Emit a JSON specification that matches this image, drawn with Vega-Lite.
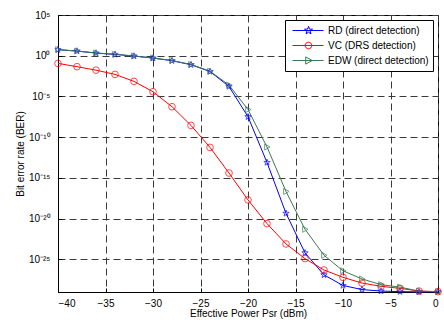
{
  "$schema": "https://vega.github.io/schema/vega-lite/v6.json",
  "width": 380,
  "height": 277,
  "autosize": "none",
  "padding": {"left": 58, "top": 15, "right": 6, "bottom": 28},
  "background": "white",
  "config": {
    "view": {"stroke": "black", "strokeWidth": 1},
    "font": "Liberation Sans",
    "axis": {
      "labelFont": "Liberation Sans",
      "titleFont": "Liberation Sans",
      "labelFontSize": 10,
      "titleFontSize": 10,
      "titleFontWeight": "normal",
      "labelColor": "black",
      "titleColor": "black",
      "domainColor": "black",
      "tickColor": "black",
      "gridColor": "#3a3a3a",
      "gridDash": [7, 4],
      "gridWidth": 1,
      "gridOpacity": 1
    }
  },
  "data": {
    "values": [
      {"x": -40, "ber": 5.5, "s": "RD (direct detection)"},
      {"x": -38, "ber": 3.7, "s": "RD (direct detection)"},
      {"x": -36, "ber": 2.1, "s": "RD (direct detection)"},
      {"x": -34, "ber": 1.45, "s": "RD (direct detection)"},
      {"x": -32, "ber": 0.91, "s": "RD (direct detection)"},
      {"x": -30, "ber": 0.51, "s": "RD (direct detection)"},
      {"x": -28, "ber": 0.245, "s": "RD (direct detection)"},
      {"x": -26, "ber": 0.079, "s": "RD (direct detection)"},
      {"x": -24, "ber": 0.0117, "s": "RD (direct detection)"},
      {"x": -22, "ber": 1.7e-4, "s": "RD (direct detection)"},
      {"x": -20, "ber": 3.2e-8, "s": "RD (direct detection)"},
      {"x": -18, "ber": 7.9e-14, "s": "RD (direct detection)"},
      {"x": -16, "ber": 4.5e-20, "s": "RD (direct detection)"},
      {"x": -14, "ber": 6.3e-25, "s": "RD (direct detection)"},
      {"x": -12, "ber": 1.26e-27, "s": "RD (direct detection)"},
      {"x": -10, "ber": 6.3e-29, "s": "RD (direct detection)"},
      {"x": -8, "ber": 2.0e-29, "s": "RD (direct detection)"},
      {"x": -6, "ber": 1.3e-29, "s": "RD (direct detection)"},
      {"x": -4, "ber": 1.1e-29, "s": "RD (direct detection)"},
      {"x": -2, "ber": 1.05e-29, "s": "RD (direct detection)"},
      {"x": 0, "ber": 1.05e-29, "s": "RD (direct detection)"},
      {"x": -40, "ber": 0.115, "s": "VC (DRS detection)"},
      {"x": -38, "ber": 0.045, "s": "VC (DRS detection)"},
      {"x": -36, "ber": 0.017, "s": "VC (DRS detection)"},
      {"x": -34, "ber": 0.0051, "s": "VC (DRS detection)"},
      {"x": -32, "ber": 7.1e-4, "s": "VC (DRS detection)"},
      {"x": -30, "ber": 3.8e-5, "s": "VC (DRS detection)"},
      {"x": -28, "ber": 5.5e-7, "s": "VC (DRS detection)"},
      {"x": -26, "ber": 2.8e-9, "s": "VC (DRS detection)"},
      {"x": -24, "ber": 5.6e-12, "s": "VC (DRS detection)"},
      {"x": -22, "ber": 4.0e-15, "s": "VC (DRS detection)"},
      {"x": -20, "ber": 2.0e-18, "s": "VC (DRS detection)"},
      {"x": -18, "ber": 2.5e-21, "s": "VC (DRS detection)"},
      {"x": -16, "ber": 7.9e-24, "s": "VC (DRS detection)"},
      {"x": -14, "ber": 1.26e-25, "s": "VC (DRS detection)"},
      {"x": -12, "ber": 5.0e-27, "s": "VC (DRS detection)"},
      {"x": -10, "ber": 6.3e-28, "s": "VC (DRS detection)"},
      {"x": -8, "ber": 1.26e-28, "s": "VC (DRS detection)"},
      {"x": -6, "ber": 5.0e-29, "s": "VC (DRS detection)"},
      {"x": -4, "ber": 2.8e-29, "s": "VC (DRS detection)"},
      {"x": -2, "ber": 1.3e-29, "s": "VC (DRS detection)"},
      {"x": 0, "ber": 1.1e-29, "s": "VC (DRS detection)"},
      {"x": -40, "ber": 5.7, "s": "EDW (direct detection)"},
      {"x": -38, "ber": 3.8, "s": "EDW (direct detection)"},
      {"x": -36, "ber": 2.2, "s": "EDW (direct detection)"},
      {"x": -34, "ber": 1.5, "s": "EDW (direct detection)"},
      {"x": -32, "ber": 0.95, "s": "EDW (direct detection)"},
      {"x": -30, "ber": 0.53, "s": "EDW (direct detection)"},
      {"x": -28, "ber": 0.26, "s": "EDW (direct detection)"},
      {"x": -26, "ber": 0.085, "s": "EDW (direct detection)"},
      {"x": -24, "ber": 0.0126, "s": "EDW (direct detection)"},
      {"x": -22, "ber": 2.5e-4, "s": "EDW (direct detection)"},
      {"x": -20, "ber": 2.5e-7, "s": "EDW (direct detection)"},
      {"x": -18, "ber": 6.3e-12, "s": "EDW (direct detection)"},
      {"x": -16, "ber": 2.2e-17, "s": "EDW (direct detection)"},
      {"x": -14, "ber": 5.0e-22, "s": "EDW (direct detection)"},
      {"x": -12, "ber": 3.2e-25, "s": "EDW (direct detection)"},
      {"x": -10, "ber": 4.0e-27, "s": "EDW (direct detection)"},
      {"x": -8, "ber": 4.0e-28, "s": "EDW (direct detection)"},
      {"x": -6, "ber": 7.9e-29, "s": "EDW (direct detection)"},
      {"x": -4, "ber": 4.0e-29, "s": "EDW (direct detection)"},
      {"x": -2, "ber": 1.26e-29, "s": "EDW (direct detection)"},
      {"x": 0, "ber": 1.1e-29, "s": "EDW (direct detection)"}
    ]
  },
  "encoding": {
    "x": {
      "field": "x",
      "type": "quantitative",
      "scale": {"domain": [-40, 0], "nice": false, "zero": false},
      "axis": {
        "title": "Effective Power Psr (dBm)",
        "values": [-40, -35, -30, -25, -20, -15, -10, -5, 0],
        "tickSize": -4,
        "labelPadding": 10,
        "titlePadding": 0
      }
    },
    "y": {
      "field": "ber",
      "type": "quantitative",
      "scale": {"type": "log", "domain": [1e-29, 1e5], "nice": false},
      "axis": {
        "title": "Bit error rate (BER)",
        "values": [1e-25, 1e-20, 1e-15, 1e-10, 1e-5, 1, 1e5],
        "labelExpr": "'10' + replace(replace(replace(replace(replace('' + round(log(datum.value)/LN10), '-', '⁻'), '0', '⁰'), '1', '¹'), '2', '²'), '5', '⁵')",
        "tickSize": -4,
        "labelPadding": 12,
        "titlePadding": 3,
        "labelFontSize": 10
      }
    },
    "color": {
      "field": "s",
      "type": "nominal",
      "scale": {
        "domain": ["RD (direct detection)", "VC (DRS detection)", "EDW (direct detection)"],
        "range": ["#0000ff", "#ff0000", "#3b7a52"]
      },
      "legend": {
        "title": null,
        "orient": "top-right",
        "offset": 5,
        "fillColor": "white",
        "strokeColor": "black",
        "padding": 4,
        "rowPadding": 3,
        "labelFont": "Liberation Sans",
        "labelFontSize": 10,
        "labelColor": "black",
        "symbolSize": 144,
        "symbolStrokeWidth": 1,
        "symbolFillColor": "transparent",
        "labelOffset": 26,
        "encode": {
          "symbols": {
            "update": {
              "shape": {"signal": "datum.value === 'RD (direct detection)' ? 'M-0.5,0H4.67M2.17,-0.7L2.335,-0.227L2.836,-0.216L2.436,0.087L2.581,0.566L2.17,0.28L1.759,0.566L1.904,0.087L1.504,-0.216L2.005,-0.227Z' : datum.value === 'VC (DRS detection)' ? 'M-0.5,0H4.67M2.72,0A0.55,0.55 0 1,1 1.62,0A0.55,0.55 0 1,1 2.72,0Z' : 'M-0.5,0H4.67M1.7,-0.6L2.8,0L1.7,0.6Z'"},
              "fill": {"value": "transparent"}
            }
          }
        }
      }
    }
  },
  "layer": [
    {
      "mark": {"type": "line", "strokeWidth": 1}
    },
    {
      "transform": [{"filter": "datum.s === 'RD (direct detection)'"}],
      "mark": {"type": "point", "filled": false, "strokeWidth": 1, "size": 45, "shape": "M0,-1L0.235,-0.324L0.951,-0.309L0.38,0.124L0.588,0.809L0,0.4L-0.588,0.809L-0.38,0.124L-0.951,-0.309L-0.235,-0.324Z"}
    },
    {
      "transform": [{"filter": "datum.s === 'VC (DRS detection)'"}],
      "mark": {"type": "point", "filled": false, "strokeWidth": 1, "size": 45, "shape": "circle"}
    },
    {
      "transform": [{"filter": "datum.s === 'EDW (direct detection)'"}],
      "mark": {"type": "point", "filled": false, "strokeWidth": 1, "size": 45, "shape": "M-0.7,-0.9L0.9,0L-0.7,0.9Z"}
    }
  ]
}
